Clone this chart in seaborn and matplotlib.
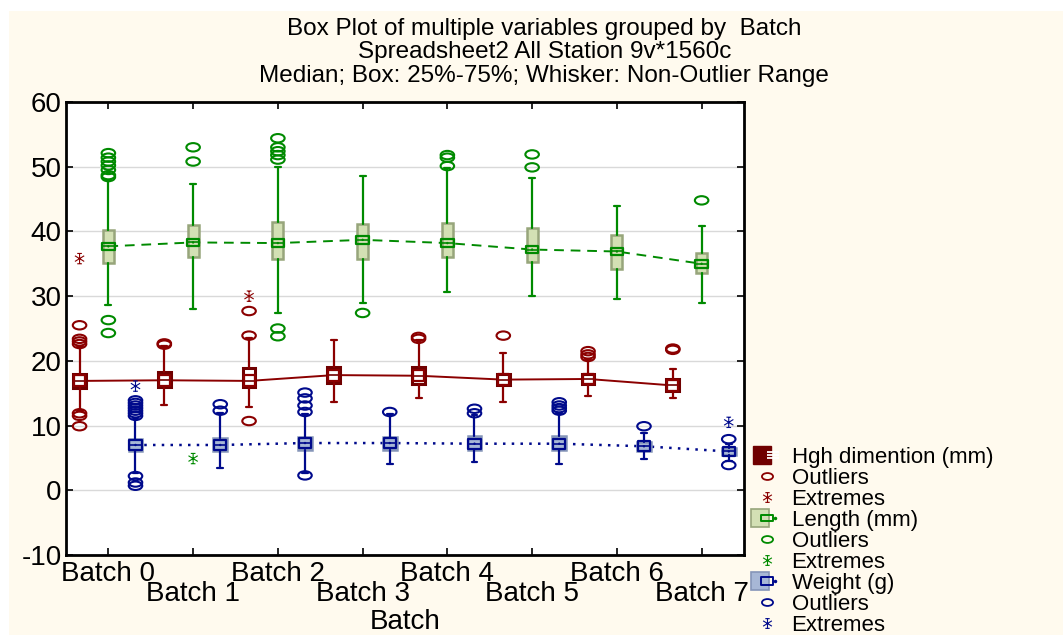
import numpy as np
import pandas as pd
import matplotlib
matplotlib.use("Agg")
import matplotlib.pyplot as plt
import seaborn as sns
from matplotlib.path import Path
from matplotlib.lines import Line2D
from matplotlib.patches import Rectangle
from matplotlib.legend_handler import HandlerTuple

# ---------------- data ----------------
batches = ["Batch 0", "Batch 1", "Batch 2", "Batch 3", "Batch 4", "Batch 5", "Batch 6", "Batch 7"]

# Hgh dimention (mm)
hgh_q1 = [15.8, 15.9, 16.0, 16.6, 16.5, 16.3, 16.5, 15.4]
hgh_med = [16.9, 17.0, 16.9, 17.8, 17.7, 17.1, 17.2, 16.2]
hgh_q3 = [18.0, 18.3, 18.9, 19.1, 19.0, 18.0, 17.9, 17.2]
hgh_lo = [12.2, 13.2, 12.9, 13.7, 14.2, 13.7, 14.5, 14.2]
hgh_hi = [22.2, 22.3, 23.6, 23.3, 23.2, 21.2, 20.3, 18.7]
hgh_out_batch = [0, 0, 0, 0, 0, 0, 0, 1, 1, 2, 2, 2, 4, 4, 5, 6, 6, 6, 7, 7]
hgh_out_val = [25.5, 23.4, 23.0, 22.6, 11.9, 11.5, 9.9, 22.7, 22.5, 27.7, 23.9, 10.7,
               23.7, 23.4, 23.9, 21.5, 21.0, 20.6, 21.7, 21.9]
hgh_ext_batch = [0, 2]
hgh_ext_val = [35.8, 30.0]

# Length (mm)
len_q1 = [35.1, 36.0, 35.7, 35.8, 36.1, 35.2, 34.2, 33.6]
len_med = [37.7, 38.3, 38.2, 38.7, 38.2, 37.2, 36.9, 35.0]
len_q3 = [40.2, 41.0, 41.5, 41.1, 41.3, 40.5, 39.4, 36.6]
len_lo = [28.6, 28.0, 27.4, 28.9, 30.6, 30.0, 29.6, 28.9]
len_hi = [48.0, 47.4, 49.9, 48.5, 49.8, 48.2, 44.0, 40.9]
len_out_batch = [0, 0, 0, 0, 0, 0, 0, 0, 0, 1, 1, 2, 2, 2, 2, 2, 2, 2, 3, 4, 4, 4, 5, 5, 7]
len_out_val = [52.1, 51.4, 50.8, 50.2, 49.5, 48.7, 48.4, 26.3, 24.3, 53.0, 50.8,
               54.4, 53.0, 52.4, 51.8, 51.1, 25.0, 23.8, 27.4, 51.8, 51.4, 50.1,
               51.9, 49.9, 44.8]
len_ext_batch = [1]
len_ext_val = [4.9]

# Weight (g)
wt_q1 = [6.1, 6.1, 6.3, 6.3, 6.3, 6.3, 6.1, 5.4]
wt_med = [7.0, 7.0, 7.3, 7.3, 7.2, 7.2, 6.8, 6.0]
wt_q3 = [7.9, 8.1, 8.3, 8.3, 8.4, 8.4, 7.4, 6.6]
wt_lo = [2.7, 3.4, 2.7, 4.0, 4.3, 4.0, 4.8, 4.6]
wt_hi = [11.2, 12.0, 11.8, 11.8, 11.6, 12.0, 8.8, 7.2]
wt_out_batch = [0, 0, 0, 0, 0, 0, 0, 0, 0, 0, 1, 1, 2, 2, 2, 2, 2, 3, 4, 4, 5, 5, 5, 5, 6, 7, 7]
wt_out_val = [13.9, 13.5, 13.1, 12.7, 12.3, 11.9, 11.5, 2.2, 1.2, 0.7, 13.3, 12.3,
              15.1, 14.2, 13.1, 12.1, 2.3, 12.1, 12.6, 11.9, 13.6, 13.1, 12.7, 12.3,
              9.9, 7.9, 3.9]
wt_ext_batch = [0, 7]
wt_ext_val = [16.1, 10.5]

y_ticks = [-10, 0, 10, 20, 30, 40, 50, 60]

# ---------------- style ----------------
sns.set_style("white")
plt.rcParams['font.family'] = ['Liberation Sans', 'DejaVu Sans']
for k in ['text.color', 'axes.labelcolor', 'xtick.color', 'ytick.color']:
    plt.rcParams[k] = 'black'

fig = plt.figure(figsize=(10.63, 6.35), dpi=100, facecolor='white')
fig.patches.append(Rectangle((9 / 1063, 0), 1, 1 - 11 / 635, transform=fig.transFigure,
                             facecolor='#fffaee', edgecolor='none', zorder=-10))
ax = fig.add_axes([66 / 1063, 80 / 635, 678 / 1063, 453 / 635])
ax.set_facecolor('white')

# markers
circ = Path.unit_circle()
ellipse = Path(circ.vertices * np.array([1.0, 0.62]), circ.codes)
ast_verts = [(0, -1), (0, 1), (-0.9, -0.55), (0.9, 0.55), (-0.9, 0.55), (0.9, -0.55),
             (-0.45, 1), (0.45, 1), (-0.45, -1), (0.45, -1)]
ast_codes = [Path.MOVETO, Path.LINETO] * 5
asterisk = Path(ast_verts, ast_codes)
rect_verts = [(-1, -0.6), (1, -0.6), (1, 0.6), (-1, 0.6), (-1, -0.6)]
rect_wide = Path(rect_verts, [Path.MOVETO, Path.LINETO, Path.LINETO, Path.LINETO, Path.CLOSEPOLY])
rect2_verts = [(-1, -0.78), (1, -0.78), (1, 0.78), (-1, 0.78), (-1, -0.78)]
rect_mid = Path(rect2_verts, [Path.MOVETO, Path.LINETO, Path.LINETO, Path.LINETO, Path.CLOSEPOLY])
stripes = Path([(-1, -0.5), (1, -0.5), (-1, 0), (1, 0), (-1, 0.5), (1, 0.5)],
               [Path.MOVETO, Path.LINETO] * 3)

series = [
    dict(name="Hgh dimention (mm)", q1=hgh_q1, med=hgh_med, q3=hgh_q3, lo=hgh_lo, hi=hgh_hi,
         ob=hgh_out_batch, ov=hgh_out_val, eb=hgh_ext_batch, ev=hgh_ext_val,
         color='#8b0000', face='white', edge='#700000', offset=-0.34, width=0.15,
         ls='-', lw=1.4, mmark='s', ms=62, dot=False),
    dict(name="Length (mm)", q1=len_q1, med=len_med, q3=len_q3, lo=len_lo, hi=len_hi,
         ob=len_out_batch, ov=len_out_val, eb=len_ext_batch, ev=len_ext_val,
         color='#008a00', face='#d3e0b4', edge='#97a57b', offset=0.0, width=0.13,
         ls=(0, (5, 3.5)), lw=1.4, mmark=rect_wide, ms=80, dot=True),
    dict(name="Weight (g)", q1=wt_q1, med=wt_med, q3=wt_q3, lo=wt_lo, hi=wt_hi,
         ob=wt_out_batch, ov=wt_out_val, eb=wt_ext_batch, ev=wt_ext_val,
         color='#000a8c', face='#a7b7d6', edge='#8595b8', offset=0.32, width=0.16,
         ls=(0, (1, 2.5)), lw=1.8, mmark=rect_mid, ms=80, dot=True),
]

idx = np.arange(len(batches))
for s in series:
    pos = idx + s['offset']
    # connecting median line
    sns.lineplot(x=pos, y=s['med'], ax=ax, color=s['color'], linestyle=s['ls'],
                 linewidth=s['lw'], zorder=1, legend=False)
    stats = [dict(med=m, q1=a, q3=b, whislo=lo, whishi=hi, fliers=[])
             for m, a, b, lo, hi in zip(s['med'], s['q1'], s['q3'], s['lo'], s['hi'])]
    edge_lw = 2.2 if s['face'] == 'white' else 1.8
    ax.bxp(stats, positions=pos, widths=s['width'], capwidths=0.07, patch_artist=True,
           showfliers=False, manage_ticks=False, zorder=2,
           boxprops=dict(facecolor=s['face'], edgecolor=s['edge'], linewidth=edge_lw),
           whiskerprops=dict(color=s['color'], linewidth=1.6),
           capprops=dict(color=s['color'], linewidth=1.6),
           medianprops=dict(color=s['edge'] if s['face'] == 'white' else s['color'], linewidth=1.2))
    # median marker
    sns.scatterplot(x=pos, y=s['med'], ax=ax, marker=s['mmark'], s=s['ms'],
                    facecolors='none', edgecolor=s['color'], linewidth=1.6, zorder=5, legend=False)
    if s['dot']:
        sns.scatterplot(x=pos, y=s['med'], ax=ax, marker='o', s=3, color=s['color'],
                        edgecolor='none', zorder=6, legend=False)
    # outliers
    ox = np.asarray(s['ob']) + s['offset']
    sns.scatterplot(x=ox, y=s['ov'], ax=ax, marker=ellipse, s=95, facecolors='none',
                    edgecolor=s['color'], linewidth=1.5, zorder=4, legend=False)
    # extremes
    ex = np.asarray(s['eb']) + s['offset']
    sns.scatterplot(x=ex, y=s['ev'], ax=ax, marker=asterisk, s=55, facecolors='none',
                    edgecolor=s['color'], linewidth=0.8, zorder=4, legend=False)

# ---------------- axes ----------------
ax.set_xlim(-0.5, 7.5)
ax.set_ylim(-10, 60)
ax.set_yticks(y_ticks)
ax.set_yticklabels([str(v) for v in y_ticks], fontsize=20)
ax.set_xticks(idx)
ax.set_xticklabels(batches, fontsize=20)
ax.grid(axis='y', color='#d9d9d9', linewidth=1.0)
ax.grid(axis='x', visible=False)
ax.set_axisbelow(True)
ax.tick_params(axis='both', direction='in', length=5, width=1.2, color='black',
               top=True, right=True, bottom=True, left=True)
ax.tick_params(axis='y', pad=3)
for i, t in enumerate(ax.xaxis.get_major_ticks()):
    t.set_pad(4.5 if i % 2 == 0 else 19.0)
for sp in ax.spines.values():
    sp.set_color('black')
    sp.set_linewidth(2.0)
ax.set_xlabel("Batch", fontsize=20)
ax.xaxis.set_label_coords(0.5, -0.12)
ax.set_ylabel("")

# ---------------- titles ----------------
fig.text(0.512, 1 - 29 / 635, "Box Plot of multiple variables grouped by  Batch",
         ha='center', va='center', fontsize=17.5)
fig.text(0.512, 1 - 52 / 635, "Spreadsheet2 All Station 9v*1560c",
         ha='center', va='center', fontsize=17.5)
fig.text(0.512, 1 - 76 / 635, "Median; Box: 25%-75%; Whisker: Non-Outlier Range",
         ha='center', va='center', fontsize=17.5)

# ---------------- legend ----------------
handles = []
labels = []
for s in series:
    if s['face'] == 'white':
        box_h = (Line2D([], [], ls='none', marker='s', ms=13, mfc='#700000', mec='#700000'),
                 Line2D([], [], ls='none', marker=stripes, ms=8, mfc='none', mec='white', mew=1.3))
    else:
        box_h = (Line2D([], [], ls='none', marker='s', ms=13, mfc=s['face'], mec=s['edge'], mew=1.2),
                 Line2D([], [], ls='none', marker=s['mmark'], ms=8, mfc='none', mec=s['color'], mew=1.4),
                 Line2D([], [], ls='none', marker='o', ms=1.5, mfc=s['color'], mec=s['color']))
    handles += [box_h,
                Line2D([], [], ls='none', marker=ellipse, ms=8, mfc='none', mec=s['color'], mew=1.3),
                Line2D([], [], ls='none', marker=asterisk, ms=7, mfc='none', mec=s['color'], mew=0.8)]
    labels += [s['name'], "Outliers", "Extremes"]

fig.legend(handles, labels, loc='upper left', bbox_to_anchor=(756 / 1063, 1 - 447 / 635),
           frameon=False, fontsize=16, labelspacing=0.0, handlelength=1.0,
           handletextpad=0.6, borderaxespad=0, borderpad=0,
           handler_map={tuple: HandlerTuple(ndivide=None, pad=0)})

fig.savefig("out.png", dpi=100, facecolor=fig.get_facecolor())
